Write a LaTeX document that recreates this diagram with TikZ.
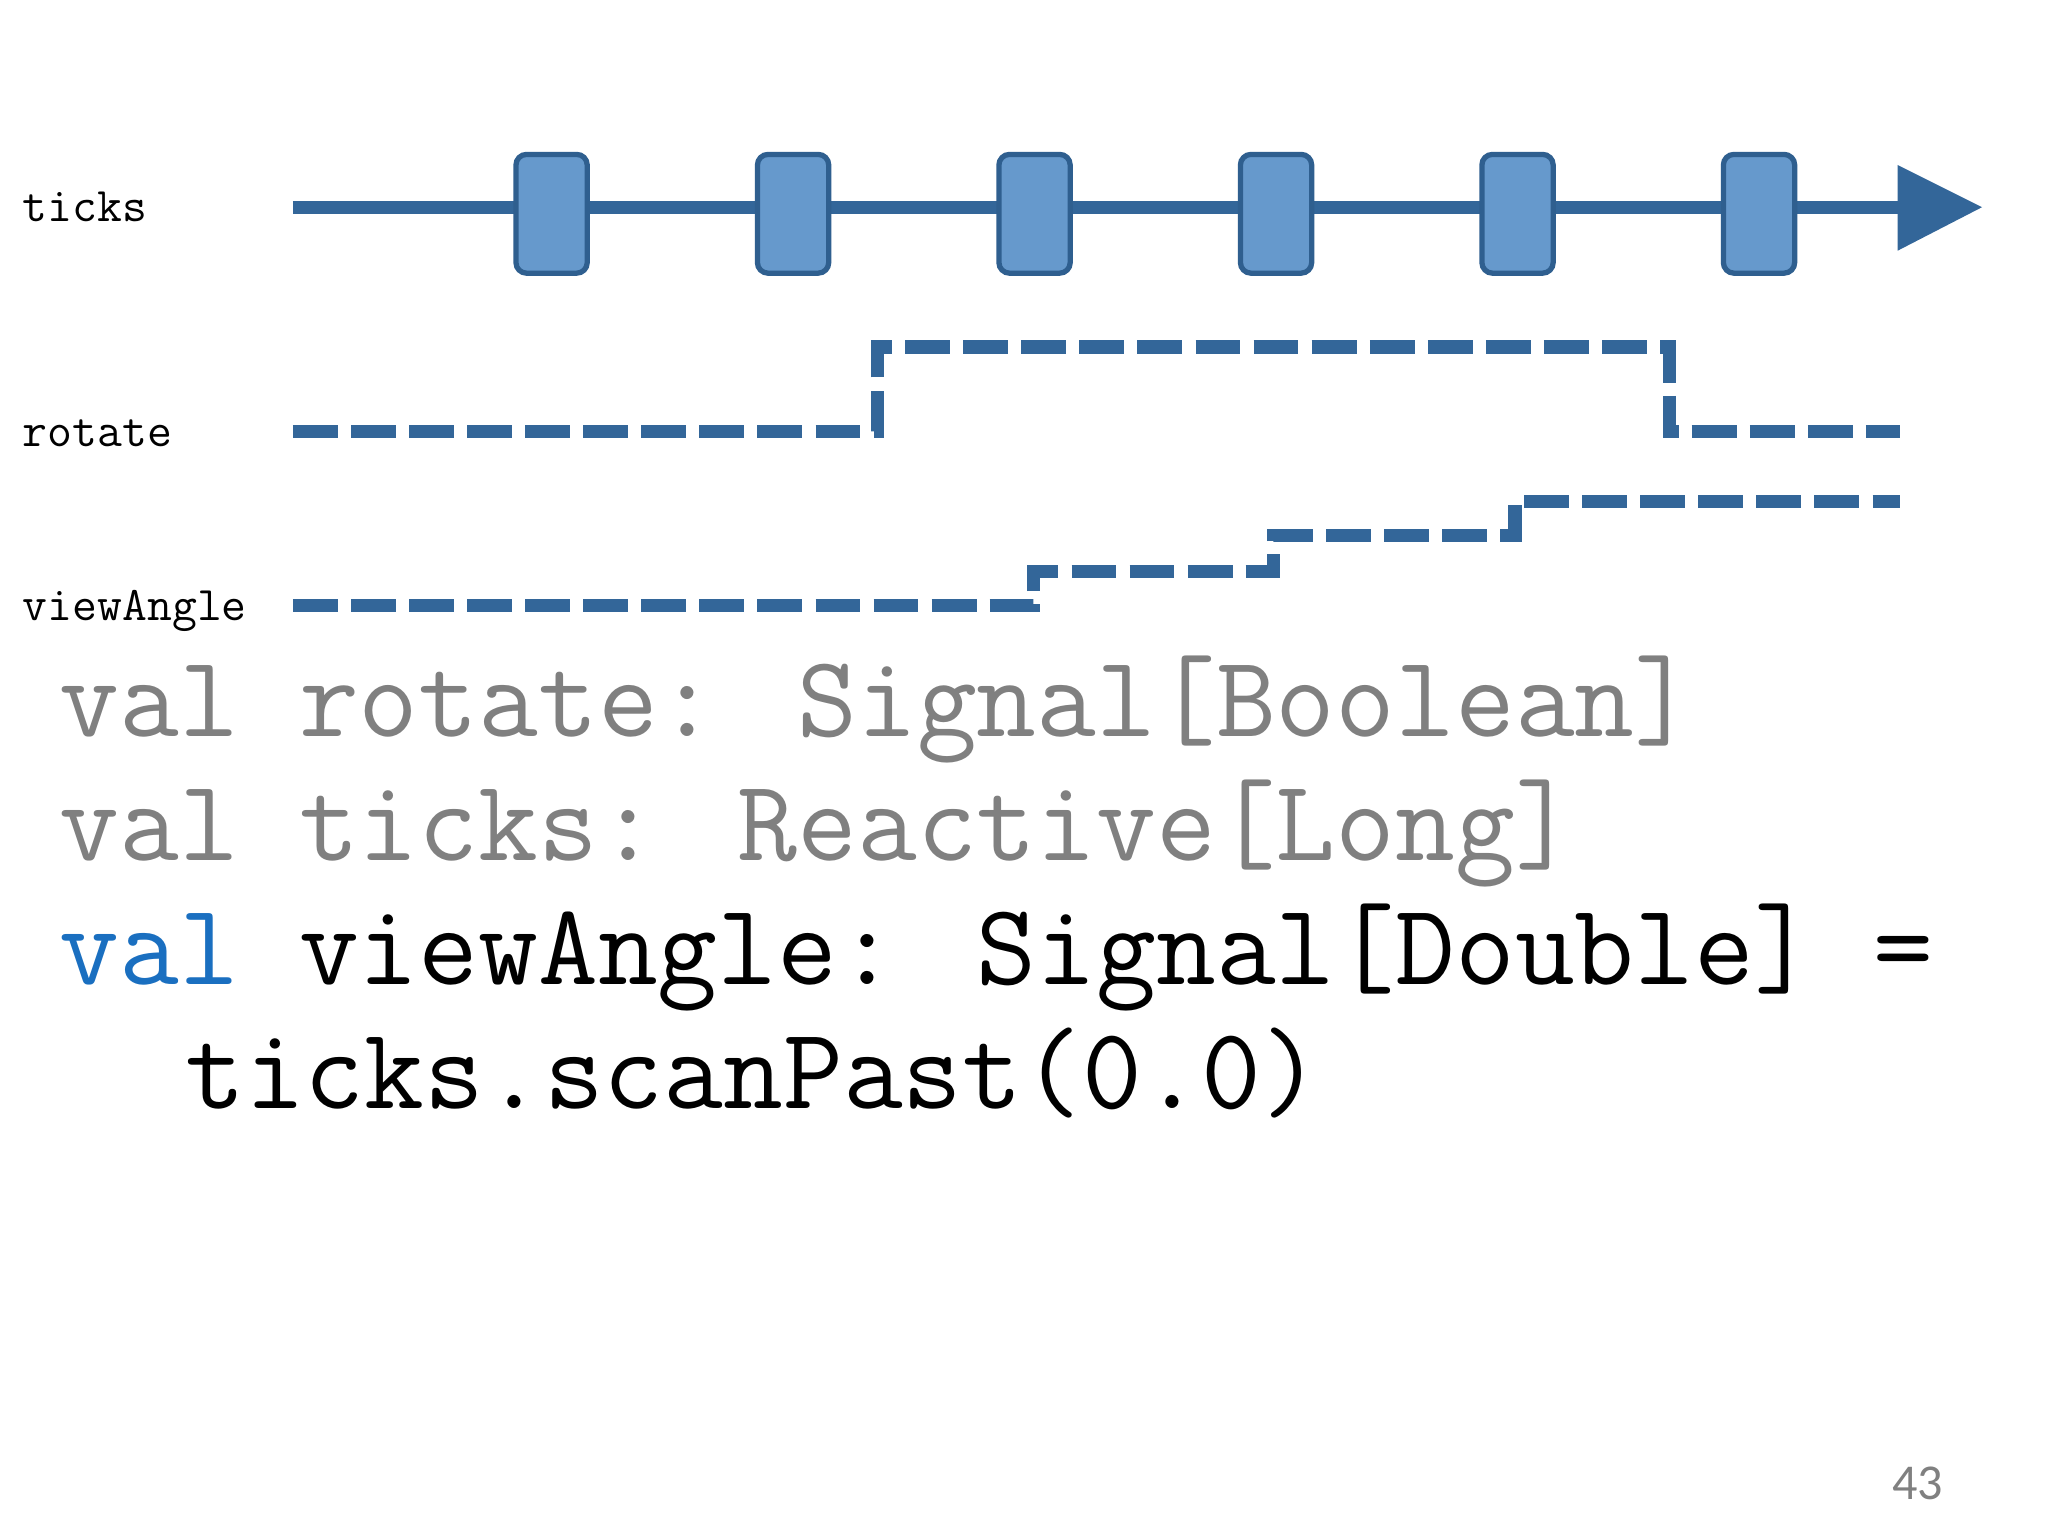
\documentclass[tikz,border=0pt]{standalone}
\usepackage{fontspec}
\newfontfamily\pagefont{Carlito}
\usetikzlibrary{arrows.meta}
\definecolor{lineblue}{HTML}{336699}
\definecolor{boxfill}{HTML}{6699CC}
\definecolor{boxedge}{HTML}{2F5F8F}
\definecolor{codegray}{HTML}{808080}
\definecolor{kwblue}{HTML}{1A6FC0}
\tikzset{
  tick/.style={draw=boxedge,fill=boxfill,line width=2pt,rounded corners=4pt,minimum width=27pt,minimum height=45pt,inner sep=0pt},
  sig/.style={draw=lineblue,line width=5pt,dash pattern=on 17pt off 5pt},
  lbl/.style={font=\ttfamily\fontsize{18.3}{20}\selectfont,anchor=base west,inner sep=0pt},
  code/.style={font=\ttfamily\fontsize{44}{50}\selectfont,anchor=base west,inner sep=0pt}
}
\begin{document}
\begin{tikzpicture}[x=0.5pt,y=-0.5pt]
\useasboundingbox (0,0) rectangle (1552,1164);
\fill[white] (0,0) rectangle (1552,1164);
\node[lbl] (lt) at (17,168) {ticks};
\node[lbl] (lr) at (17,338) {rotate};
\node[lbl] (lv) at (17,470) {viewAngle};
\coordinate (ts) at (222,157);
\coordinate (te) at (1440,157);
\draw[lineblue,line width=5pt] (ts) -- (te);
\fill[lineblue] (1438,125) -- (1502,157) -- (1438,190) -- cycle;
\foreach \x [count=\i] in {418,601,784,967,1150,1333}
  \node[tick] (b\i) at (\x,162) {};
\draw[sig] (222,327) -- (665,327) -- (665,263) -- (1265,263) -- (1265,327) -- (1440,327);
\draw[sig] (222,459) -- (783,459) -- (783,433) -- (965,433) -- (965,406) -- (1148,406) -- (1148,380) -- (1440,380);
\node[code,text=codegray] (c1) at (45,558) {val rotate: Signal[Boolean]};
\node[code,text=codegray] (c2) at (45,652) {val ticks: Reactive[Long]};
\node[code] (c3) at (45,746) {\textcolor{kwblue}{val} viewAngle: Signal[Double] =};
\node[code] (c4) at (140,840) {ticks.scanPast(0.0)};
\node[font=\pagefont\fontsize{19}{22}\selectfont,text=codegray,anchor=base east,inner sep=0pt] (pg) at (1473,1136) {43};
\end{tikzpicture}
\end{document}
